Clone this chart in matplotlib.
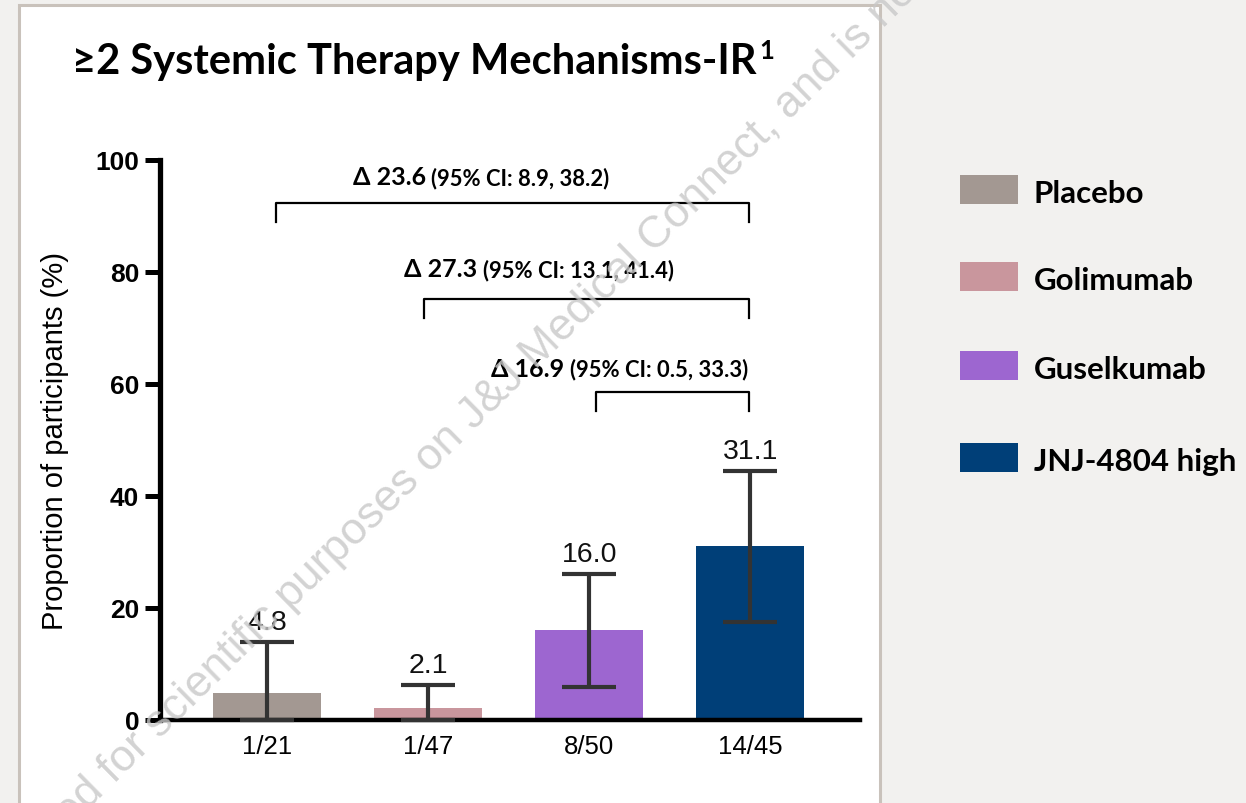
import matplotlib
matplotlib.use("Agg")
import matplotlib.pyplot as plt
from matplotlib.patches import Rectangle

# Response rates by arm (% of participants)
arms = ["Placebo", "Golimumab", "Guselkumab", "JNJ-4804 high"]
counts = ["1/21", "1/47", "8/50", "14/45"]
rates = [4.8, 2.1, 16.0, 31.1]
ci_low = [0.0, 0.0, 5.8, 17.5]
ci_high = [13.9, 6.3, 26.0, 44.4]
colors = ["#a39892", "#c9969d", "#9d66d0", "#003f78"]

# Pairwise comparisons against JNJ-4804 high
comp_from = [0.056, 0.975, 2.043]
comp_to = [2.99, 2.99, 2.99]
comp_delta = ["23.6", "27.3", "16.9"]
comp_ci = ["8.9, 38.2", "13.1, 41.4", "0.5, 33.3"]
bracket_y = [92.3, 75.2, 58.5]

title_font = ["Lato", "DejaVu Sans"]
arial = ["Liberation Sans", "DejaVu Sans"]

fig = plt.figure(figsize=(12.46, 8.04), dpi=100)
fig.patch.set_facecolor("#f2f1ef")

# white panel behind the chart
W, H = 1246, 804
fig.patches.append(Rectangle((19 / W, -0.02), (880 - 19) / W, (804 - 6) / H + 0.02,
                             transform=fig.transFigure, facecolor="white",
                             edgecolor="#c9c2bb", linewidth=2.2, zorder=-5))

ax = fig.add_axes([160 / W, (804 - 721) / H, (860 - 160) / W, (721 - 160.5) / H])
ax.set_facecolor("none")
ax.set_zorder(2)

x = list(range(len(arms)))
ax.bar(x, rates, width=0.67, color=colors, zorder=2)
yerr = [[r - lo for r, lo in zip(rates, ci_low)], [hi - r for r, hi in zip(rates, ci_high)]]
ax.errorbar(x, rates, yerr=yerr, fmt="none", ecolor="#333333", elinewidth=3,
            capsize=19.5, capthick=3, zorder=5, clip_on=False)

for xi, r, hi in zip(x, rates, ci_high):
    ax.annotate(f"{r:.1f}", xy=(xi, hi), xytext=(0, 5), textcoords="offset points",
                ha="center", va="bottom", fontsize=20.5, family=arial, color="#111111")

ax.set_xlim(-0.665, 3.68)
ax.set_ylim(0, 100)
ax.set_yticks([0, 20, 40, 60, 80, 100])
ax.set_xticks(x)
ax.set_xticklabels(counts, fontsize=18.5, family=arial)
ax.tick_params(axis="x", length=0, pad=10)
ax.tick_params(axis="y", length=11, width=3.6, pad=4, labelsize=19)
for lab in ax.get_yticklabels():
    lab.set_fontweight("bold")
    lab.set_family(arial)

for side in ["top", "right"]:
    ax.spines[side].set_visible(False)
ax.spines["left"].set_linewidth(3.8)
ax.spines["bottom"].set_linewidth(3.2)
ax.spines["left"].set_zorder(4)
ax.spines["bottom"].set_zorder(4)

ax.set_ylabel("Proportion of participants (%)", fontsize=21, family=arial, labelpad=19)

# comparison brackets
label_x = [0.53, 0.85, 1.39]
label_y = [96.9, 80.5, 62.7]
for xa, xb, yb, d, ci, lx, ly in zip(comp_from, comp_to, bracket_y, comp_delta, comp_ci,
                                     label_x, label_y):
    ax.plot([xa, xa, xb, xb], [yb - 3.4, yb, yb, yb - 3.4], color="black",
            linewidth=1.6, zorder=3, clip_on=False)
    t1 = ax.text(lx, ly, f"Δ {d}", fontsize=18, fontweight="bold", family=title_font,
                 ha="left", va="center")
    ax.annotate(f"(95% CI: {ci})", xy=(1, 0), xycoords=t1, xytext=(4, 0.3),
                textcoords="offset points", ha="left", va="bottom",
                fontsize=15.8, fontweight="bold", family=title_font)

# title with superscript reference mark
t = fig.text(72 / W, 1 - 62 / H, "≥2 Systemic Therapy Mechanisms-IR", ha="left", va="center",
             fontsize=30, fontweight="bold", family=title_font)
ax.annotate("1", xy=(1, 1), xycoords=t, xytext=(2, 3), textcoords="offset points",
            ha="left", va="top", fontsize=18.5, fontweight="bold", family=title_font,
            annotation_clip=False)

# legend
leg_y = [190, 277, 366, 458]
for name, c, yy in zip(arms, colors, leg_y):
    fig.patches.append(Rectangle((960 / W, 1 - (yy + 14.5) / H), 58 / W, 29 / H,
                                 transform=fig.transFigure, facecolor=c, edgecolor="none"))
    fig.text(1034 / W, 1 - (yy + 4) / H, name, ha="left", va="center",
             fontsize=22.5, fontweight="bold", family=title_font)

# disclaimer watermark
fig.text(447 / W, 1 - 441 / H,
         "provided for scientific purposes on J&J Medical Connect, and is not",
         rotation=44.5, ha="center", va="center", fontsize=32, family=arial,
         color="#c8c8c8", alpha=0.8, zorder=10)

fig.savefig("out.png", dpi=100, facecolor=fig.get_facecolor())
